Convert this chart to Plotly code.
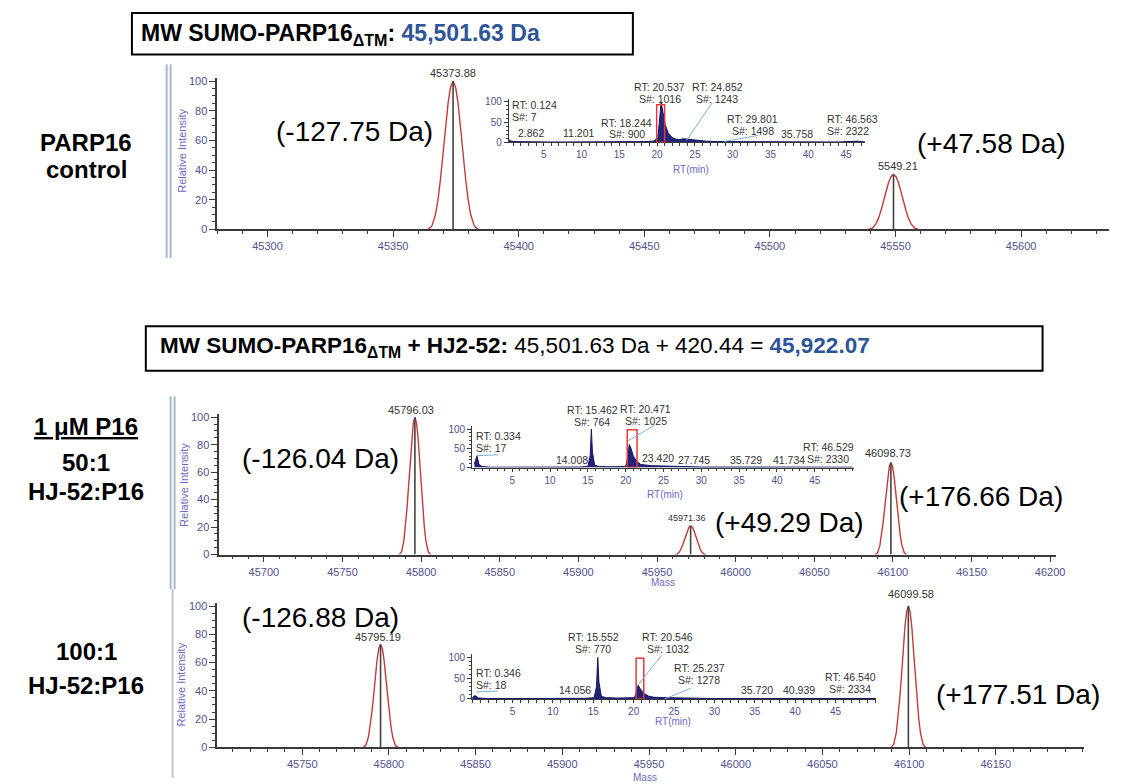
import plotly.graph_objects as go

W, H = 1121, 784

# ---------------- data ----------------
# deconvoluted mass spectra: peak centroid masses and relative intensities
p1_mass = [45373.88, 45549.21]
p1_int = [100, 37]
p1_lab = ["45373.88", "5549.21"]

p2_mass = [45796.03, 45971.36, 46098.73]
p2_int = [100, 21, 67]
p2_lab = ["45796.03", "45971.36", "46098.73"]

p3_mass = [45795.19, 46099.58]
p3_int = [73, 100]
p3_lab = ["45795.19", "46099.58"]

# profile peak shape (offset in Da, fraction of apex)
prof_off = [-10, -8.5, -7, -6, -5, -4, -3, -2, -1, 0, 1, 2, 3, 4, 5, 6, 7, 8.5, 10]
prof_rel = [0, 0.02, 0.1, 0.2, 0.34, 0.5, 0.68, 0.85, 0.96, 1,
            0.96, 0.85, 0.68, 0.5, 0.34, 0.2, 0.1, 0.02, 0]

# mass shift labels
d1_text = ["(-127.75 Da)", "(+47.58 Da)"]
d2_text = ["(-126.04 Da)", "(+49.29 Da)", "(+176.66 Da)"]
d3_text = ["(-126.88 Da)", "(+177.51 Da)"]

# chromatograms (RT min, relative abundance)
rt1 = [0, 0.124, 0.3, 0.6, 1.0, 2.0, 2.862, 4, 5.5, 8, 11.201, 14, 16, 18.244, 19.5,
       20.1, 20.35, 20.537, 20.8, 21.1, 21.5, 22, 22.5, 23, 23.5, 24, 24.852, 25.5,
       26.5, 28, 29.801, 32, 35.758, 40, 44, 46.563, 47.5]
ab1 = [5, 25, 8, 4, 2, 1.5, 2, 1.5, 1, 1, 1, 1, 1.5, 2, 3,
       10, 60, 100, 72, 42, 22, 12, 8, 7, 9, 8, 6, 5,
       3, 2, 2, 1.5, 1.5, 1, 1, 3, 1]

rt2 = [0, 0.334, 0.6, 1.0, 2, 5, 10, 14.008, 15.0, 15.3, 15.462, 15.6, 15.9, 16.5, 18,
       20.0, 20.3, 20.471, 20.7, 21.0, 21.5, 22, 23.42, 25, 27.745, 30, 35.729, 41.734,
       46.529, 50]
ab2 = [10, 30, 8, 3, 1, 1, 1, 1.5, 3, 30, 100, 40, 6, 3, 2,
       3, 30, 60, 50, 30, 15, 8, 5, 4, 2, 1.5, 1.5, 1.5,
       2, 1]

rt3 = [0, 0.346, 0.8, 2, 5, 10, 14.056, 15.1, 15.4, 15.552, 15.7, 16.0, 16.6, 18,
       20.1, 20.4, 20.546, 20.8, 21.2, 21.8, 22.5, 24, 25.237, 27, 30, 35.72, 40.939,
       46.54, 50]
ab3 = [3, 8, 2, 1, 1, 1, 1.5, 3, 30, 100, 40, 6, 3, 2,
       3, 20, 33, 25, 14, 7, 4, 3, 2.5, 1.5, 1, 1, 1,
       1.5, 1]

# chromatogram annotations: (RT-label lines)
i1_notes = [("RT: 0.124", "S#: 7"), ("2.862",), ("11.201",), ("RT: 18.244", "S#: 900"),
            ("RT: 20.537", "S#: 1016"), ("RT: 24.852", "S#: 1243"),
            ("RT: 29.801", "S#: 1498"), ("35.758",), ("RT: 46.563", "S#: 2322")]
i2_notes = [("RT: 0.334", "S#: 17"), ("14.008",), ("RT: 15.462", "S#: 764"),
            ("RT: 20.471", "S#: 1025"), ("23.420",), ("27.745",), ("35.729",),
            ("41.734",), ("RT: 46.529", "S#: 2330")]
i3_notes = [("RT: 0.346", "S#: 18"), ("14.056",), ("RT: 15.552", "S#: 770"),
            ("RT: 20.546", "S#: 1032"), ("RT: 25.237", "S#: 1278"), ("35.720",),
            ("40.939",), ("RT: 46.540", "S#: 2334")]

# ---------------- helpers ----------------
def fx(px):
    return px / W

def fy(py):
    return 1 - py / H

FONT = "Liberation Sans, Arial, sans-serif"
TICKC = "#51518c"
AXC = "#3a3a3a"

fig = go.Figure()
annotations = []
shapes = []

def ann(xpx, ypx, text, size=11, color="#333333", xanchor="center", yanchor="middle", angle=0):
    annotations.append(dict(x=fx(xpx), y=fy(ypx), xref="paper", yref="paper", text=text,
                            showarrow=False, xanchor=xanchor, yanchor=yanchor, textangle=angle,
                            font=dict(family=FONT, size=size, color=color)))

def pline(x0, y0, x1, y1, color="#7fb0de", width=1):
    shapes.append(dict(type="line", xref="paper", yref="paper", x0=fx(x0), y0=fy(y0),
                       x1=fx(x1), y1=fy(y1), line=dict(color=color, width=width)))

layout_axes = {}

def main_axes(n, xpx, xrange, y0px, yscale, xticks):
    ytop = y0px - 102 * yscale
    layout_axes[f"xaxis{n}"] = dict(domain=[fx(xpx[0]), fx(xpx[1])], anchor=f"y{n}", range=xrange,
                                    showline=True, linecolor=AXC, linewidth=1.5, ticks="outside",
                                    ticklen=6, tickcolor=AXC, tickwidth=1.2, tickvals=xticks,
                                    ticktext=[str(v) for v in xticks],
                                    minor=dict(ticks="outside", ticklen=3, dtick=10, tick0=0,
                                               tickcolor=AXC),
                                    tickfont=dict(family=FONT, size=11, color=TICKC),
                                    showgrid=False, zeroline=False)
    layout_axes[f"yaxis{n}"] = dict(domain=[fy(y0px), fy(ytop)], anchor=f"x{n}", range=[0, 102],
                                    showline=True, linecolor=AXC, linewidth=1.5, ticks="outside",
                                    ticklen=6, tickcolor=AXC, tickwidth=1.2,
                                    tickvals=[0, 20, 40, 60, 80, 100],
                                    minor=dict(ticks="outside", ticklen=3, dtick=5, tick0=0,
                                               tickcolor=AXC),
                                    tickfont=dict(family=FONT, size=11, color=TICKC),
                                    showgrid=False, zeroline=False)

def inset_axes(n, xpx, xrange, y0px, yscale):
    ytop = y0px - 108 * yscale
    layout_axes[f"xaxis{n}"] = dict(domain=[fx(xpx[0]), fx(xpx[1])], anchor=f"y{n}", range=xrange,
                                    showline=True, linecolor=AXC, linewidth=1.2, ticks="outside",
                                    ticklen=3, tickcolor=AXC, tickvals=[5, 10, 15, 20, 25, 30, 35, 40, 45],
                                    minor=dict(ticks="outside", ticklen=2.5, dtick=1, tick0=0,
                                               tickcolor=AXC),
                                    tickfont=dict(family=FONT, size=10, color=TICKC),
                                    showgrid=False, zeroline=False)
    layout_axes[f"yaxis{n}"] = dict(domain=[fy(y0px), fy(ytop)], anchor=f"x{n}", range=[0, 108],
                                    showline=True, linecolor=AXC, linewidth=1.2, ticks="outside",
                                    ticklen=4, tickcolor=AXC, tickvals=[0, 50, 100],
                                    minor=dict(ticks="outside", ticklen=2, dtick=10, tick0=0,
                                               tickcolor=AXC),
                                    tickfont=dict(family=FONT, size=10, color=TICKC),
                                    showgrid=False, zeroline=False)

def spectrum(n, masses, ints):
    px_, py_, sx, sy = [], [], [], []
    for m, h in zip(masses, ints):
        px_ += [m + o for o in prof_off] + [None]
        py_ += [h * r for r in prof_rel] + [None]
        sx += [m, m, None]
        sy += [0, h, None]
    fig.add_trace(go.Scatter(x=px_, y=py_, mode="lines", xaxis=f"x{n}", yaxis=f"y{n}",
                             line=dict(color="#c23b3b", width=1.4), hoverinfo="skip"))
    fig.add_trace(go.Scatter(x=sx, y=sy, mode="lines", xaxis=f"x{n}", yaxis=f"y{n}",
                             line=dict(color="#444444", width=1.6), hoverinfo="skip"))

def chrom(n, rt, ab):
    fig.add_trace(go.Scatter(x=rt, y=ab, mode="lines", fill="tozeroy", xaxis=f"x{n}", yaxis=f"y{n}",
                             line=dict(color="#151560", width=1), fillcolor="#23237a",
                             hoverinfo="skip"))

def redbox(n, x0, x1, y1):
    shapes.append(dict(type="rect", xref=f"x{n}", yref=f"y{n}", x0=x0, x1=x1, y0=0, y1=y1,
                       line=dict(color="#e23a3a", width=1.5)))

def notes(items, positions):
    for lines, (xp, yp, anc) in zip(items, positions):
        for k, t in enumerate(lines):
            ann(xp, yp + 12 * k, t, size=10.5, color="#333333", xanchor=anc)

# ---------------- panel 1 ----------------
main_axes(1, (219, 1118), [45280, 45635], 229, 1.5, [45300, 45350, 45400, 45450, 45500, 45550, 45600])
inset_axes(2, (513, 872), [0.4, 47.5], 141, 0.41)
spectrum(1, p1_mass, p1_int)
chrom(2, rt1, ab1)
redbox(2, 19.95, 21.0, 93)
ann(457, 71, p1_lab[0]); ann(905, 165, p1_lab[1])
ann(357, 130, d1_text[0], size=28, color="#000"); ann(1000, 142, d1_text[1], size=28, color="#000")
ann(184, 150, "Relative Intensity", size=11, color="#6a6ac4", angle=-90)
ann(697, 168, "RT(min)", size=10, color="#6a6ac4")
notes(i1_notes, [(514, 103, "left"), (535, 132, "center"), (583, 132, "center"),
                 (632, 121, "center"), (665, 85, "center"), (723, 85, "center"),
                 (759, 117, "center"), (803, 133, "center"), (832, 117, "left")])
pline(718, 101, 692, 139)
pline(730, 140, 764, 134)
# frame lines on the left
pline(168, 62, 168, 258, color="#a9b6d3", width=2)
pline(172, 62, 172, 258, color="#a9b6d3", width=2)

# ---------------- panel 2 ----------------
main_axes(3, (221, 1065), [45671.6, 46204], 558, 1.39,
          [45700, 45750, 45800, 45850, 45900, 45950, 46000, 46050, 46100, 46150, 46200])
inset_axes(4, (476, 861), [-0.3, 50.2], 470, 0.39)
spectrum(3, p2_mass, p2_int)
chrom(4, rt2, ab2)
redbox(4, 20.2, 21.5, 98)
ann(414, 412, p2_lab[0]); ann(693, 521, p2_lab[1], size=9); ann(895, 455, p2_lab[2])
ann(323, 461, d2_text[0], size=28, color="#000"); ann(796, 526, d2_text[1], size=28, color="#000")
ann(989, 499, d2_text[2], size=28, color="#000")
ann(186, 488, "Relative Intensity", size=11, color="#6a6ac4", angle=-90)
ann(670, 497, "RT(min)", size=10, color="#6a6ac4")
ann(668, 586, "Mass", size=10, color="#6a6ac4")
notes(i2_notes, [(478, 438, "left"), (577, 462, "center"), (597, 412, "center"),
                 (651, 411, "center"), (663, 460, "center"), (700, 462, "center"),
                 (752, 462, "center"), (795, 462, "center"), (835, 449, "center")])
pline(480, 458, 502, 457)
pline(633, 443, 660, 427)
pline(172, 398, 172, 593, color="#a9b6d3", width=2)
pline(176, 398, 176, 593, color="#a9b6d3", width=2)

# ---------------- panel 3 ----------------
main_axes(5, (219, 1093), [45701, 46201], 753, 1.43,
          [45750, 45800, 45850, 45900, 45950, 46000, 46050, 46100, 46150])
inset_axes(6, (476, 883), [0, 50], 704, 0.42)
spectrum(5, p3_mass, p3_int)
chrom(6, rt3, ab3)
redbox(6, 20.3, 21.25, 98)
ann(381, 641, p3_lab[0]); ann(918, 598, p3_lab[1])
ann(323, 622, d3_text[0], size=28, color="#000"); ann(1026, 700, d3_text[1], size=28, color="#000")
ann(183, 690, "Relative Intensity", size=11, color="#6a6ac4", angle=-90)
ann(678, 727, "RT(min)", size=10, color="#6a6ac4")
ann(650, 776, "Mass", size=10, color="#6a6ac4", yanchor="top")
notes(i3_notes, [(478, 678, "left"), (580, 695, "center"), (598, 641, "center"),
                 (673, 641, "center"), (705, 673, "center"), (763, 695, "center"),
                 (805, 695, "center"), (857, 682, "center")])
pline(480, 697, 502, 696)
pline(643, 690, 667, 660)
pline(670, 704, 697, 693)
pline(174, 593, 174, 784, color="#c4c4c4", width=2)

# ---------------- headers & left labels ----------------
shapes.append(dict(type="rect", xref="paper", yref="paper", x0=fx(133), x1=fx(638), y0=fy(52), y1=fy(10),
                   line=dict(color="#000", width=2)))
ann(140, 32, "<b>MW SUMO-PARP16<sub>ΔTM</sub>: <span style='color:#2e5597'>45,501.63 Da</span></b>",
    size=23, color="#000", xanchor="left")
shapes.append(dict(type="rect", xref="paper", yref="paper", x0=fx(147), x1=fx(1051), y0=fy(372), y1=fy(327),
                   line=dict(color="#000", width=2)))
ann(159, 348, "<b>MW SUMO-PARP16<sub>ΔTM</sub> + HJ2-52:</b> 45,501.63 Da + 420.44 = "
              "<b><span style='color:#2e5597'>45,922.07</span></b>",
    size=22.5, color="#000", xanchor="left")

ann(87, 141, "<b>PARP16</b>", size=24, color="#000")
ann(87, 168, "<b>control</b>", size=24, color="#000")
ann(87, 428, "<b><u>1 μM P16</u></b>", size=24, color="#000")
ann(87, 465, "<b>50:1</b>", size=24, color="#000")
ann(87, 494, "<b>HJ-52:P16</b>", size=24, color="#000")
ann(87, 656, "<b>100:1</b>", size=24, color="#000")
ann(87, 690, "<b>HJ-52:P16</b>", size=24, color="#000")

fig.update_layout(width=W, height=H, margin=dict(l=0, r=0, t=0, b=0),
                  paper_bgcolor="white", plot_bgcolor="rgba(0,0,0,0)", showlegend=False,
                  annotations=annotations, shapes=shapes, **layout_axes)

fig.write_html("out.html")
